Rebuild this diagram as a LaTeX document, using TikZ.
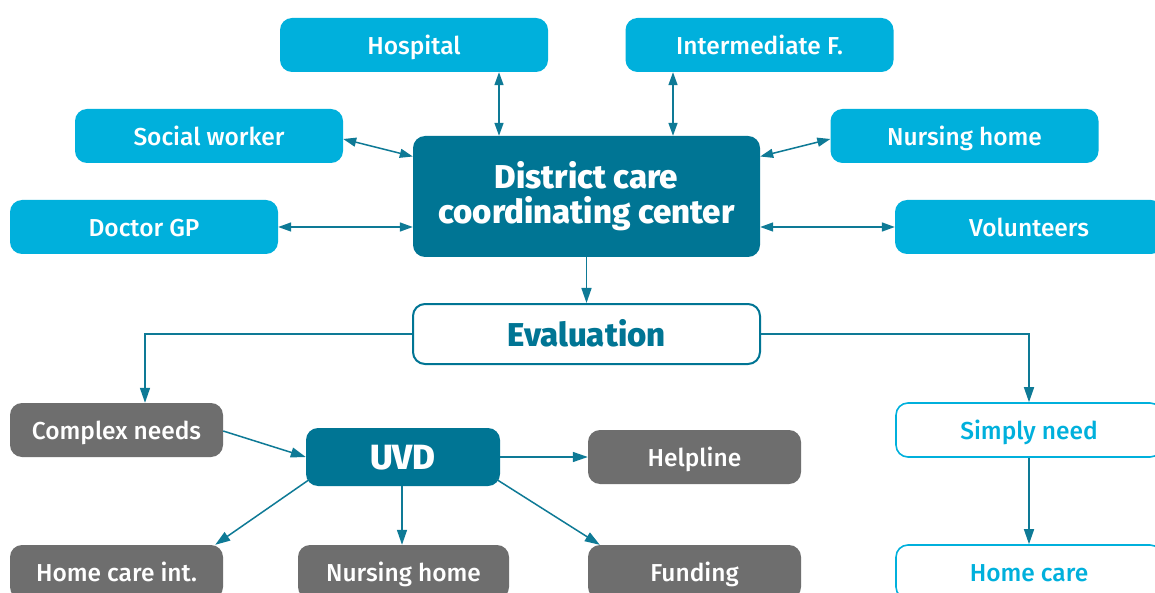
\documentclass[tikz,border=0pt]{standalone}
\usepackage{fontspec}
\setmainfont{Fira Sans}
\newfontfamily\medfont{Fira Sans}[UprightFont={* Medium}]
\newfontfamily\heavyfont{Fira Sans}[UprightFont={* ExtraBold}]
\usetikzlibrary{arrows.meta}
\definecolor{lblue}{HTML}{00B0DC}
\definecolor{dteal}{HTML}{007594}
\definecolor{gbox}{HTML}{6E6E6E}
\definecolor{arr}{HTML}{0E7A96}
\begin{document}
\begin{tikzpicture}[x=1pt,y=-1pt,
  box/.style={rounded corners=12pt, minimum height=54pt, inner sep=0pt, font=\medfont\fontsize{24.5}{27}\selectfont},
  capc/.style={text height=19.5pt, text depth=0pt},
  capb/.style={text height=24pt, text depth=0pt},
  lb/.style={box, capc, fill=lblue, text=white, minimum width=268pt},
  gb/.style={box, capc, fill=gbox, text=white, minimum width=213pt},
  ob/.style={box, capc, draw=lblue, line width=1.6pt, fill=white, text=lblue, minimum width=266pt},
  big/.style={font=\heavyfont\fontsize{33}{35}\selectfont},
  ar/.style={draw=arr, line width=1.5pt, -{Triangle[length=15pt,width=10pt]}},
  dar/.style={draw=arr, line width=1.5pt, {Triangle[length=13pt,width=9pt]}-{Triangle[length=13pt,width=9pt]}}
]
\useasboundingbox[fill=white] (0,0) rectangle (1155,593);
% top ring
\node[lb] (hosp) at (414,45) {Hospital};
\node[lb] (inter) at (759.5,45) {Intermediate F.};
\node[lb] (sw) at (209,136) {Social worker};
\node[lb] (nht) at (964.5,136) {Nursing home};
\node[lb] (dgp) at (144,227) {Doctor GP};
\node[lb] (vol) at (1029,227) {Volunteers};
\node[box, big, fill=dteal, text=white, minimum width=347pt, minimum height=121pt, align=center] (dcc) at (586.5,196.5) {District care\\coordinating center};
\node[box, capb, big, draw=dteal, line width=2pt, fill=white, text=dteal, minimum width=347pt, minimum height=60pt] (ev) at (586.5,334) {Evaluation};
% lower part
\node[gb] (cn) at (116.5,430) {Complex needs};
\node[box, big, font=\heavyfont\fontsize{35}{38}\selectfont, text height=25.5pt, text depth=0pt, fill=dteal, text=white, minimum width=194pt, minimum height=58pt] (uvd) at (403,457) {UVD};
\node[gb] (help) at (694.5,457) {Helpline};
\node[ob] (sn) at (1029,430) {Simply need};
\node[gb] (hci) at (116.5,572) {Home care int.};
\node[gb, minimum width=211pt] (nhb) at (403.5,572) {Nursing home};
\node[gb] (fund) at (694.5,572) {Funding};
\node[ob] (hc) at (1029,572) {Home care};
% connectors
\draw[dar] (hosp.south -| 499,0) -- (dcc.north -| 499,0);
\draw[dar] (inter.south -| 673,0) -- (dcc.north -| 673,0);
\draw[dar] ([yshift=-3pt]sw.east) -- ([yshift=40pt]dcc.west);
\draw[dar] ([yshift=-3pt]nht.west) -- ([yshift=40pt]dcc.east);
\draw[dar] (dgp.east) -- (dgp.east -| dcc.west);
\draw[dar] (vol.west) -- (vol.west -| dcc.east);
\draw[ar] (dcc.south) -- (ev.north);
\draw[ar] (ev.west) -| ([xshift=28.5pt]cn.north);
\draw[ar] (ev.east) -| (sn.north);
\draw[ar] ([yshift=-1pt]cn.east) -- (uvd.west);
\draw[ar] (uvd.east) -- (help.west);
\draw[ar] ([shift={(4,-7)}]uvd.south west) -- ([shift={(-8,0)}]hci.north east);
\draw[ar] (uvd.south -| 402,0) -- (nhb.north -| 402,0);
\draw[ar] ([shift={(-4,-7)}]uvd.south east) -- ([shift={(12,0)}]fund.north west);
\draw[ar] (sn.south) -- (hc.north);
\end{tikzpicture}
\end{document}
